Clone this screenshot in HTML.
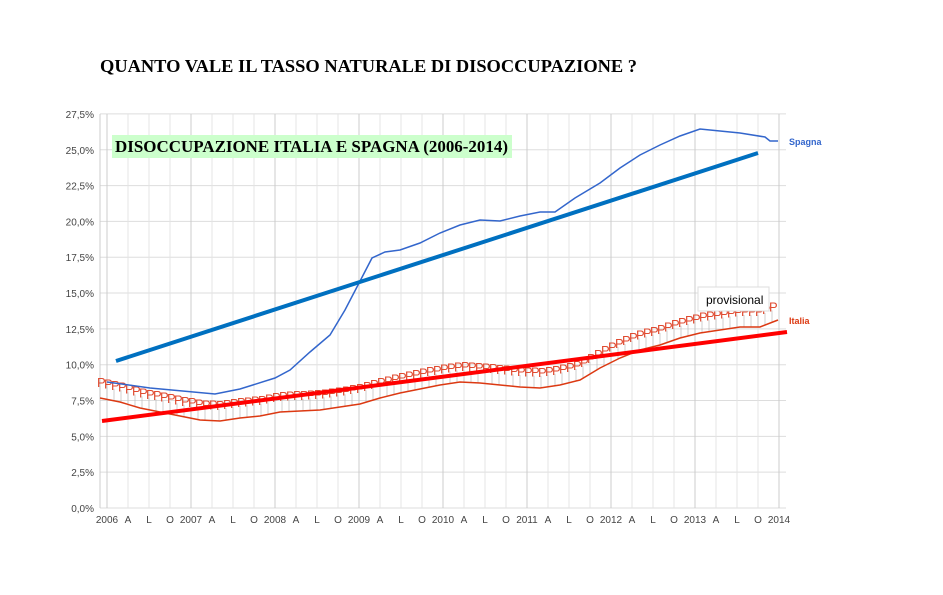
<!DOCTYPE html>
<html><head><meta charset="utf-8"><style>
body{margin:0;background:#fff;width:943px;height:590px;overflow:hidden;font-family:"Liberation Sans",sans-serif}
</style></head><body>
<svg id="s" width="943" height="590" xmlns="http://www.w3.org/2000/svg">
<text x="100" y="72" font-family="Liberation Serif" font-weight="bold" font-size="18" textLength="537" lengthAdjust="spacingAndGlyphs">QUANTO VALE IL TASSO NATURALE  DI DISOCCUPAZIONE ?</text>
<g id="grid"></g>
<rect x="112" y="135" width="400" height="23" fill="#ccffcc"/>
<text x="115" y="152" font-family="Liberation Serif" font-weight="bold" font-size="17" textLength="393" lengthAdjust="spacingAndGlyphs">DISOCCUPAZIONE ITALIA E SPAGNA (2006-2014)</text>
<g id="data"></g>
<rect x="698" y="287" width="71" height="24" fill="#fff" stroke="#ddd"/>
<text x="706" y="304" font-size="12">provisional</text>
<text x="789" y="145" font-size="9" font-weight="bold" fill="#3366cc">Spagna</text>
<text x="789" y="324" font-size="9" font-weight="bold" fill="#dc3912">Italia</text>
</svg>
<script>
const NS="http://www.w3.org/2000/svg";
const g=document.getElementById('grid'),d=document.getElementById('data');
function el(p,t,a,txt){const e=document.createElementNS(NS,t);for(const k in a)e.setAttribute(k,a[k]);if(txt)e.textContent=txt;p.appendChild(e);return e;}
const Y=v=>508-v*14.33;
for(let i=0;i<=11;i++){const v=i*2.5,y=Y(v);el(g,'line',{x1:100,x2:786,y1:y,y2:y,stroke:'#ddd'});
el(g,'text',{x:94,y:y+4,'text-anchor':'end','font-size':10,fill:'#444'},v.toFixed(1).replace('.',',')+'%');}
const labs=['A','L','O'];
for(let q=0;q<=32;q++){const x=107+q*21;el(g,'line',{x1:x,x2:x,y1:114,y2:508,stroke:q%4==0?'#ccc':'#e4e4e4'});
el(g,'text',{x:x,y:523,'text-anchor':'middle','font-size':10,fill:'#444'},q%4==0?String(2006+q/4):labs[q%4-1]);}
el(g,'line',{x1:100,x2:100,y1:114,y2:508,stroke:'#ccc'});
const sp=[[107,382],[150,388],[215,394],[240,389],[275,378],[290,370],[310,352],[330,335],[345,310],[358,285],[372,258],[385,252],[400,250],[420,243],[440,233],[460,225],[480,220],[500,221],[520,216],[540,212],[555,212],[575,198],[600,183],[620,168],[640,155],[660,145],[680,136],[700,129],[720,131],[740,133],[765,137],[770,141],[778,141]];
const it=[[100,398],[120,402],[140,408],[160,412],[180,416],[200,420],[220,421],[240,418],[260,416],[280,412],[300,411],[320,410],[340,407],[360,404],[380,398],[400,393],[420,389],[440,385],[460,382],[480,383],[500,385],[520,387],[540,388],[560,385],[580,380],[600,368],[620,358],[640,350],[660,345],[680,338],[700,333],[720,330],[740,327],[760,327],[778,320]];
function interp(a,x){for(let i=0;i<a.length-1;i++)if(x>=a[i][0]&&x<=a[i+1][0]){const t=(x-a[i][0])/(a[i+1][0]-a[i][0]);return a[i][1]+t*(a[i+1][1]-a[i][1]);}return a[a.length-1][1];}
for(let x=100;x<=778;x+=7){const y=interp(it,x);
el(d,'line',{x1:x,x2:x,y1:y-12,y2:y,stroke:'#bbb','stroke-width':0.7});}
for(let x=100;x<=778;x+=7){const y=interp(it,x);
el(d,'text',{x:x-3,y:y-11,'font-size':13,fill:'#e04a30'},'P');}
el(d,'polyline',{points:it.map(p=>p.join(',')).join(' '),fill:'none',stroke:'#dc3912','stroke-width':1.5});
el(d,'polyline',{points:sp.map(p=>p.join(',')).join(' '),fill:'none',stroke:'#3366cc','stroke-width':1.5});
el(d,'line',{x1:116,y1:361,x2:758,y2:153,stroke:'#0070c0','stroke-width':4});
el(d,'line',{x1:102,y1:421,x2:787,y2:332,stroke:'#ff0000','stroke-width':4});
</script>
</body></html>
